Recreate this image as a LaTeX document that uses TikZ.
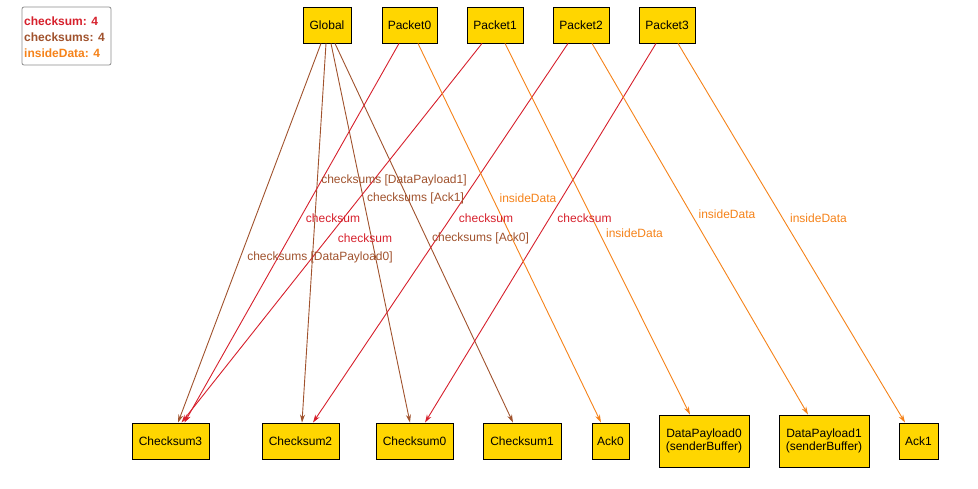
\documentclass[tikz,border=0pt]{standalone}
\usepackage{fontspec}
\setmainfont{Liberation Sans}
\usetikzlibrary{arrows.meta}
\definecolor{nodefill}{RGB}{255,214,0}
\definecolor{csred}{RGB}{214,32,44}
\definecolor{csbrown}{RGB}{160,82,45}
\definecolor{idorange}{RGB}{245,130,25}
\definecolor{legendgray}{RGB}{140,140,140}
\begin{document}
\begin{tikzpicture}[x=1pt,y=-1pt,
  every node/.style={font=\fontsize{12}{13.5}\selectfont},
  box/.style={draw=black, line width=0.9pt, fill=nodefill, inner sep=0pt, align=center, minimum height=36pt},
  tall/.style={box, minimum height=52pt},
  edge/.style={line width=0.9pt, -{Stealth[length=8pt,width=5pt]}},
  rel/.style={edge, draw=csred},
  rels/.style={edge, draw=csbrown},
  reli/.style={edge, draw=idorange},
  lbl/.style={inner sep=0pt},
]
\useasboundingbox (0,0) rectangle (978,488);

% legend
\node[draw=legendgray, line width=0.8pt, rounded corners=2pt, minimum width=89pt, minimum height=58pt] (legend) at (66.5,36) {};
\node[lbl, anchor=west, text=csred, font=\fontsize{12}{13.5}\selectfont\bfseries] (lg1) at (24,21.5) {checksum: 4};
\node[lbl, anchor=west, text=csbrown, font=\fontsize{12}{13.5}\selectfont\bfseries] (lg2) at (24,37.5) {checksums: 4};
\node[lbl, anchor=west, text=idorange, font=\fontsize{12}{13.5}\selectfont\bfseries] (lg3) at (24,53.5) {insideData: 4};

% top row
\node[box, minimum width=48pt] (Global) at (327,25) {Global};
\node[box, minimum width=55pt] (Packet0) at (409.5,25) {Packet0};
\node[box, minimum width=56pt] (Packet1) at (495,25) {Packet1};
\node[box, minimum width=56pt] (Packet2) at (581,25) {Packet2};
\node[box, minimum width=56pt] (Packet3) at (667,25) {Packet3};

% bottom row
\node[box, minimum width=77pt] (Checksum3) at (170.5,441) {Checksum3};
\node[box, minimum width=77pt] (Checksum2) at (300.5,441) {Checksum2};
\node[box, minimum width=77pt] (Checksum0) at (414.5,441) {Checksum0};
\node[box, minimum width=78pt] (Checksum1) at (522,441) {Checksum1};
\node[box, minimum width=37pt] (Ack0) at (610.5,441) {Ack0};
\node[tall, minimum width=90pt] (DataPayload0) at (704,441) {DataPayload0\\(senderBuffer)};
\node[tall, minimum width=90pt] (DataPayload1) at (824,441) {DataPayload1\\(senderBuffer)};
\node[box, minimum width=39pt] (Ack1) at (918.5,441) {Ack1};

% checksums
\draw[rels] ([xshift=-6pt]Global.south) -- ([xshift=7.5pt]Checksum3.north);
\draw[rels] ([xshift=-1pt]Global.south) -- ([xshift=1.5pt]Checksum2.north);
\draw[rels] ([xshift=4pt]Global.south) -- ([xshift=-4.5pt]Checksum0.north);
\draw[rels] ([xshift=8pt]Global.south) -- ([xshift=-9pt]Checksum1.north);

% checksum
\draw[rel] ([xshift=-10.5pt]Packet0.south) -- ([xshift=14pt]Checksum3.north);
\draw[rel] ([xshift=-13pt]Packet1.south) -- ([xshift=11pt]Checksum3.north);
\draw[rel] ([xshift=-13pt]Packet2.south) -- ([xshift=12.5pt]Checksum2.north);
\draw[rel] ([xshift=-11pt]Packet3.south) -- ([xshift=10.5pt]Checksum0.north);

% insideData
\draw[reli] ([xshift=8.5pt]Packet0.south) -- ([xshift=-9.5pt]Ack0.north);
\draw[reli] ([xshift=10pt]Packet1.south) -- ([xshift=-14pt]DataPayload0.north);
\draw[reli] ([xshift=11pt]Packet2.south) -- ([xshift=-16pt]DataPayload1.north);
\draw[reli] ([xshift=11pt]Packet3.south) -- ([xshift=-13.5pt]Ack1.north);

% edge labels
\node[lbl, text=csbrown] (l1) at (394,180) {checksums [DataPayload1]};
\node[lbl, text=csbrown] (l2) at (415.5,198) {checksums [Ack1]};
\node[lbl, text=csbrown] (l3) at (480.5,238) {checksums [Ack0]};
\node[lbl, text=csbrown] (l4) at (320,257) {checksums [DataPayload0]};
\node[lbl, text=csred] (l5) at (333,218) {checksum};
\node[lbl, text=csred] (l6) at (365,238) {checksum};
\node[lbl, text=csred] (l7) at (486,218) {checksum};
\node[lbl, text=csred] (l8) at (584.5,218) {checksum};
\node[lbl, text=idorange] (l9) at (528,198) {insideData};
\node[lbl, text=idorange] (l10) at (634.5,233) {insideData};
\node[lbl, text=idorange] (l11) at (727,214) {insideData};
\node[lbl, text=idorange] (l12) at (818.5,218) {insideData};
\end{tikzpicture}
\end{document}
